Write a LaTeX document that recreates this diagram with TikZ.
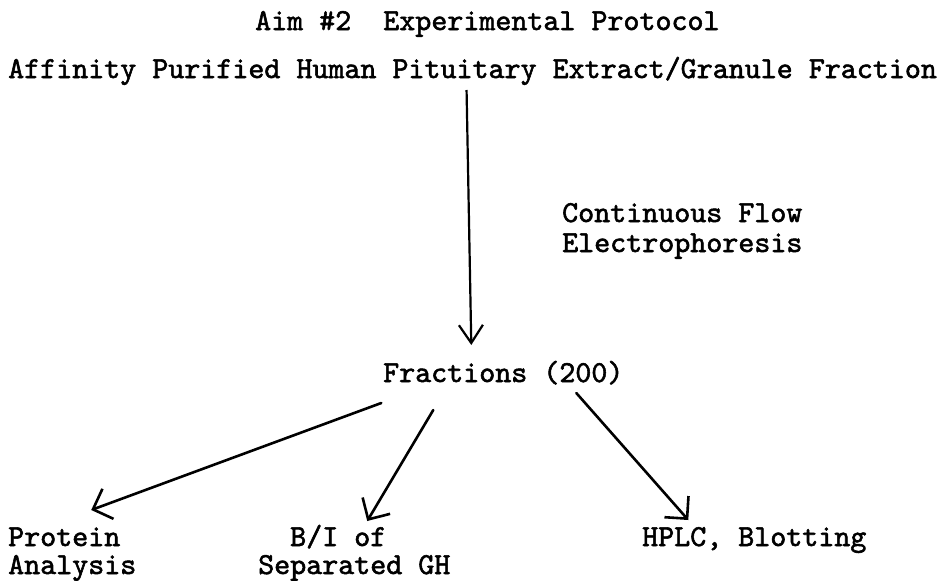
\documentclass[tikz,border=0pt]{standalone}
\usepackage{fontspec}
\newfontfamily\typewriter[FakeBold=1.8]{lmmono10-regular.otf}
\usetikzlibrary{arrows.meta}
\tikzset{
  label text/.style={inner sep=0pt, anchor=base west, font=\typewriter\fontsize{30.5}{34}\selectfont},
  flow/.style={line width=2.2pt, -{Straight Barb[length=18pt,width=24pt,line width=2.2pt]}},
  branch/.style={line width=2.6pt, line cap=round, -{Straight Barb[length=16pt,width=32pt,line width=2.6pt]}}
}
\begin{document}
\begin{tikzpicture}[x=1pt, y=-1pt]
  \useasboundingbox (0,0) rectangle (951,581);

  % headings
  \node[label text] (title) at (255,30) {Aim \#2\ \ Experimental Protocol};
  \node[label text] (src) at (8,78) {Affinity Purified Human Pituitary Extract/Granule Fraction};

  % separation step
  \node[label text] (method1) at (562,222) {Continuous Flow};
  \node[label text] (method2) at (562,252) {Electrophoresis};
  \node[label text] (frac) at (383,382) {Fractions (200)};

  % analyses of the fractions
  \node[label text] (prot1) at (8,546) {Protein};
  \node[label text] (prot2) at (8,574) {Analysis};
  \node[label text] (bind1) at (290,546) {B/I of};
  \node[label text] (bind2) at (258,574) {Separated GH};
  \node[label text] (hplc) at (642,546) {HPLC, Blotting};

  % connectors
  \draw[flow] ([shift={(-6,12)}]src.base) -- ([shift={(-32,-37)}]frac.base);
  \draw[branch] ([shift={(-122,21)}]frac.base) -- ([shift={(27,-36)}]prot1.base);
  \draw[branch] ([shift={(-70,28)}]frac.base) -- ([shift={(29,-25)}]bind1.base);
  \draw[branch] ([shift={(73,11)}]frac.base) -- ([shift={(-66,-26)}]hplc.base);
\end{tikzpicture}
\end{document}
